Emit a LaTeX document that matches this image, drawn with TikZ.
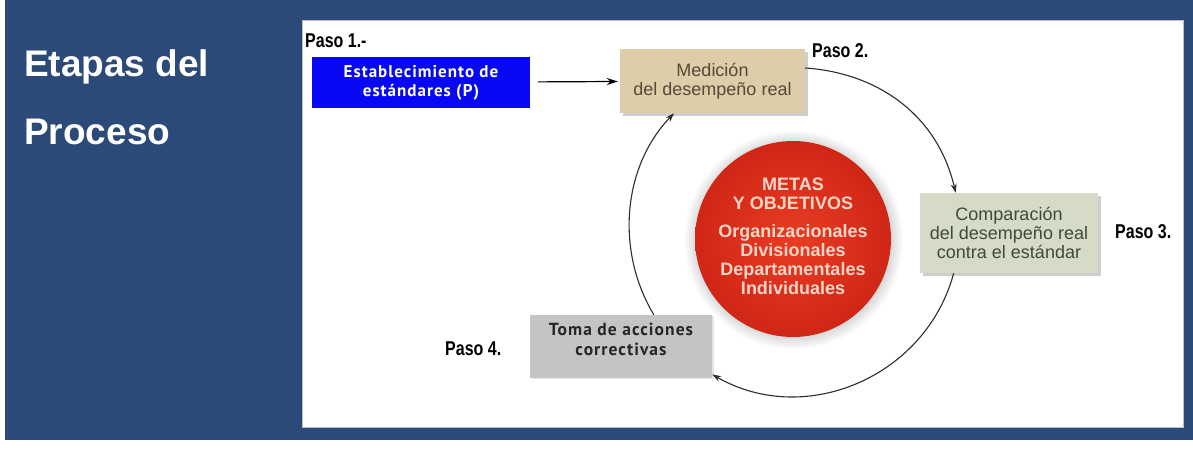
\documentclass[tikz,border=0pt]{standalone}
\usepackage{fontspec}
\setmainfont{Liberation Sans}
\newfontfamily\condfont{Liberation Sans}[FakeStretch=0.8]
\newfontfamily\humfont{PT Sans}[LetterSpace=6]
\usetikzlibrary{arrows.meta,shadows}

\definecolor{slide}{RGB}{44,74,120}
\definecolor{stdblue}{RGB}{8,8,245}
\definecolor{tanfill}{RGB}{221,205,168}
\definecolor{tantext}{RGB}{88,72,55}
\definecolor{sagefill}{RGB}{214,219,200}
\definecolor{sagetext}{RGB}{66,72,58}
\definecolor{greyfill}{RGB}{196,196,196}
\definecolor{goalin}{RGB}{232,60,34}
\definecolor{goalout}{RGB}{208,38,22}
\definecolor{goaltext}{RGB}{247,214,200}
\definecolor{ring}{RGB}{45,45,45}

\tikzset{
  stepbox/.style={draw=none, inner sep=0pt, align=center},
  softshadow/.style={drop shadow={shadow xshift=3pt, shadow yshift=-3pt, opacity=0.35, fill=black!55}},
  pasolabel/.style={anchor=base west, inner sep=0pt, font=\condfont\bfseries\fontsize{20}{20}\selectfont, text=black},
  cycle/.style={draw=ring, line width=1.1pt, -{Stealth[length=9pt,width=6pt]}},
}

\begin{document}
\begin{tikzpicture}[x=1pt,y=1pt]
  \useasboundingbox (0,0) rectangle (1193,-452);
  % slide background and white panel
  \fill[white] (0,0) rectangle (1193,-452);
  \fill[slide] (5,0) rectangle (1193,-440);
  \fill[white] (302,-20) rectangle (1183,-427);
  \draw[black!25, line width=0.6pt] (302,-20) rectangle (1183,-427);

  % title
  \node[anchor=base west, inner sep=0pt, text=white, font=\bfseries\fontsize{37}{37}\selectfont] (title1) at (24,-77) {Etapas del};
  \node[anchor=base west, inner sep=0pt, text=white, font=\bfseries\fontsize{37}{37}\selectfont] (title2) at (24,-144) {Proceso};

  % soft halo behind the goals disc
  \foreach \r in {99,101,...,109} {
    \fill[black, opacity=0.025] (794,-240) circle[radius=\r];
  }
  % goals disc
  \node[circle, minimum size=196pt, inner sep=0pt, inner color=goalin, outer color=goalout] (goal) at (793,-239) {};
  \node[align=center, inner sep=0pt, text=goaltext, font=\bfseries\fontsize{18}{19}\selectfont] (goaltxt)
    at ([yshift=3pt]goal.center)
    {METAS\\Y OBJETIVOS\\[9pt]Organizacionales\\Divisionales\\Departamentales\\Individuales};

  % process steps
  \node[stepbox, fill=stdblue, minimum width=218pt, minimum height=51pt, text=white,
        font=\humfont\bfseries\fontsize{17}{19}\selectfont] (std) at (421,-82.5)
    {Establecimiento de\\est\'andares (P)};
  \node[stepbox, softshadow, fill=tanfill, minimum width=185pt, minimum height=64pt, text=tantext,
        font=\fontsize{18}{19}\selectfont] (med) at (712.5,-81)
    {Medici\'on\\del desempe\~no real};
  \node[stepbox, softshadow, fill=sagefill, minimum width=178pt, minimum height=80pt, text=sagetext,
        font=\fontsize{18}{19}\selectfont] (cmp) at (1009,-233)
    {Comparaci\'on\\del desempe\~no real\\contra el est\'andar};
  \node[stepbox, drop shadow={shadow xshift=2pt, shadow yshift=-1pt, opacity=0.2}, fill=greyfill,
        minimum width=182pt, minimum height=63pt] (toma) at (621,-346.5) {};
  \node[stepbox, text=black!85, font=\humfont\bfseries\fontsize{17.5}{20}\selectfont] (tomatext)
    at ([yshift=7pt]toma.center) {Toma de acciones\\correctivas};

  % step labels
  \node[pasolabel] (paso1) at (305,-48) {Paso 1.-};
  \node[pasolabel] (paso2) at (812,-58) {Paso 2.};
  \node[pasolabel] (paso3) at (1115,-238) {Paso 3.};
  \node[pasolabel] (paso4) at (445,-355) {Paso 4.};

  % connectors
  \draw[black, line width=1.2pt, -{Stealth[length=11pt,width=7pt]}, shorten <=8pt, shorten >=2pt] (std) -- (med);
  \draw[cycle] (med.8) to[out=-4, in=103] (cmp.143);
  \draw[cycle] (cmp.216) to[out=-105, in=-30, looseness=1.05] (toma.-17);
  \draw[cycle] (toma.44) to[out=121, in=226, looseness=0.94] (med.220);
\end{tikzpicture}
\end{document}
